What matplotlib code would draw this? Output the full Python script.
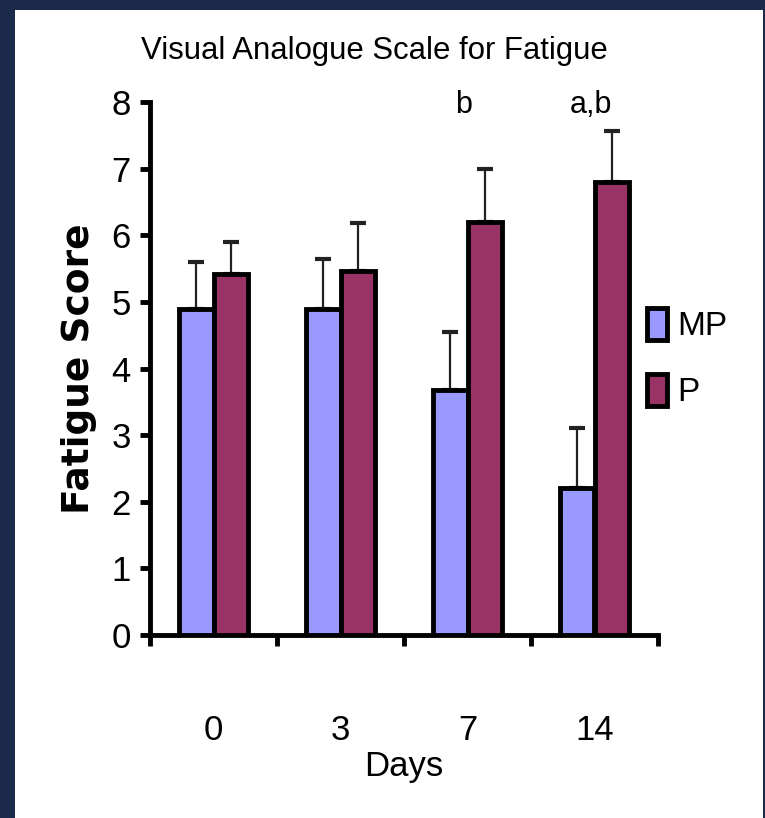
import numpy as np
import matplotlib
matplotlib.use("Agg")
import matplotlib.pyplot as plt
from matplotlib import font_manager
from matplotlib.patches import Rectangle

# data
days = ["0", "3", "7", "14"]
mp_mean = [4.9, 4.9, 3.68, 2.2]
mp_err = [0.7, 0.75, 0.87, 0.9]
p_mean = [5.42, 5.46, 6.2, 6.8]
p_err = [0.48, 0.72, 0.8, 0.77]
marks = ["", "", "b", "a,b"]

# condensed font if there is one
names = {f.name for f in font_manager.fontManager.ttflist}
narrow = "Liberation Sans Narrow" if "Liberation Sans Narrow" in names else "Liberation Sans"

fig = plt.figure(figsize=(7.65, 8.18), dpi=100, facecolor="#1b2a4a")
# white panel inside the navy frame
fig.patches.append(Rectangle((15 / 765, 0), 748 / 765, 808 / 818,
                             transform=fig.transFigure, facecolor="white",
                             edgecolor="none", zorder=-10))

ax = fig.add_axes([150 / 765, 1 - 635 / 818, 508 / 765, 533 / 818])
ax.set_facecolor("none")

x = np.arange(len(days))
w = 0.275
ax.bar(x - w / 2, mp_mean, w, color="#9999ff", edgecolor="black",
       linewidth=3.5, label="MP", zorder=3)
ax.bar(x + w / 2, p_mean, w, color="#993366", edgecolor="black",
       linewidth=3.5, label="P", zorder=3)
ax.errorbar(x - w / 2, mp_mean, yerr=[np.zeros(4), mp_err], fmt="none",
            ecolor="#222222", elinewidth=1.6, capsize=5.5, capthick=3, zorder=2)
ax.errorbar(x + w / 2, p_mean, yerr=[np.zeros(4), p_err], fmt="none",
            ecolor="#222222", elinewidth=1.6, capsize=5.5, capthick=3, zorder=2)

for i, m in enumerate(marks):
    if m:
        ax.text(x[i] - 0.03, 7.95, m, ha="center", va="center",
                fontsize=22, family=narrow)

ax.set_xlim(-0.5, 3.5)
ax.set_ylim(0, 8)
for s in ["top", "right"]:
    ax.spines[s].set_visible(False)
for s in ["left", "bottom"]:
    ax.spines[s].set_linewidth(3.5)

ax.set_yticks(range(9))
ax.tick_params(axis="y", direction="out", length=7, width=3.5, pad=7,
               labelsize=25)
ax.set_xticks(x)
ax.set_xticklabels(days)
ax.set_xticks(np.arange(-0.5, 4, 1), minor=True)
ax.tick_params(axis="x", which="major", length=0, pad=57, labelsize=25)
ax.tick_params(axis="x", which="minor", direction="out", length=8, width=3.5)
for lab in ax.get_xticklabels() + ax.get_yticklabels():
    lab.set_family(narrow)

ax.set_xlabel("Days", fontsize=25, family=narrow, labelpad=2)
ax.set_ylabel("Fatigue Score", fontsize=27, fontweight="bold",
              family="DejaVu Sans", labelpad=10)

fig.text(374 / 765, 1 - 51 / 818, "Visual Analogue Scale for Fatigue",
         ha="center", va="center", fontsize=22.4, family=narrow)

ax.legend(loc="center left", bbox_to_anchor=(0.92, 0.52), frameon=False,
          prop={"family": narrow, "size": 24},
          handlelength=0.6, handleheight=1.1, handletextpad=0.3,
          labelspacing=0.95)

fig.savefig("out.png", dpi=100, facecolor=fig.get_facecolor())
